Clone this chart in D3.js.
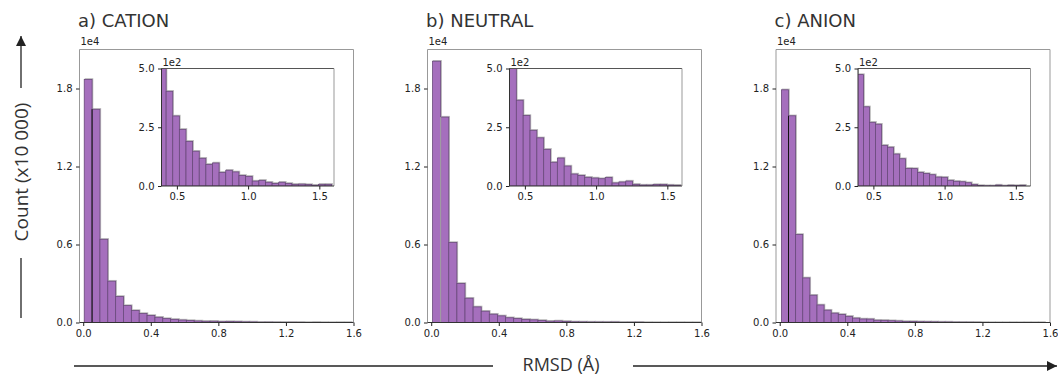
<!DOCTYPE html>
<html><head><meta charset="utf-8">
<script src="https://cdn.jsdelivr.net/npm/d3@7"></script>
<style>body{margin:0;background:#fff}svg{display:block}</style>
</head><body><svg id="c" width="1058" height="376"></svg>
<script>
// ---- data ----
const panelTitles = ["a) CATION", "b) NEUTRAL", "c) ANION"];
const binStart = [0.006, 0.008, 0.010];
const binWidth = [0.0465, 0.048, 0.0421];
const cationCounts = [18700,16400,6400,3180,2000,1300,920,690,540,403,298,241,190,148,118,92,98,58,67,60,45,41,21,24,16,11,16,11,7,8,6,3,7,7];
const neutralCounts = [20100,15800,6150,3000,1870,1200,870,640,510,365,300,237,205,156,101,119,85,51,45,37,34,31,36,13,17,21,7,4,4,6,6,4,3];
const anionCounts = [17900,15900,6770,3430,2100,1350,950,720,620,474,337,271,263,173,165,136,116,75,74,58,53,48,38,37,24,20,18,14,6,2,1,1,4,1,3,2,3];
const mainXTicks = [0, 0.4, 0.8, 1.2, 1.6];
const mainXTickLabels = ["0.0", "0.4", "0.8", "1.2", "1.6"];
const mainYTicks = [0, 6000, 12000, 18000];
const mainYTickLabels = ["0.0", "0.6", "1.2", "1.8"];
const insetXTicks = [0.5, 1.0, 1.5];
const insetXTickLabels = ["0.5", "1.0", "1.5"];
const insetYTicks = [0, 250, 500];
const insetYTickLabels = ["0.0", "2.5", "5.0"];
const mainOffsetLabel = "1e4";
const insetOffsetLabel = "1e2";
const yLabel = "Count (x10 000)";
const xLabel = "RMSD (Å)";
const seriesCounts = [cationCounts, neutralCounts, anionCounts];
const dividerColor = ["#111", "#aaa", "#111"];

// ---- layout ----
const svg = d3.select("#c");
svg.append("rect").attr("width",1058).attr("height",376).attr("fill","#fff");
const panelLeft = [79.5, 427.5, 776];
const mainW = 274, mainTop = 49.5, mainBottom = 322.5;
const insetDx = 82, insetW = 172.5, insetTop = 68.5, insetBottom = 186;
const FILL = "#a56fbd", EDGE = "#6a4a7c", SHADOW = "#bcbcbc";
const tickFont = "DejaVu Sans";

function bars(g, counts, k, x, y, clipId) {
  const data = counts.map((c,i)=>({x0: binStart[k]+i*binWidth[k], x1: binStart[k]+(i+1)*binWidth[k], c}));
  const gg = g.append("g");
  if (clipId) gg.attr("clip-path", `url(#${clipId})`);
  gg.selectAll("rect.sh").data(data).join("rect").attr("class","sh")
    .attr("x", d=>x(d.x0)+0.8).attr("y", d=>y(d.c)-0.8)
    .attr("width", d=>x(d.x1)-x(d.x0)).attr("height", d=>Math.max(0,y(0)-y(d.c)))
    .attr("fill", SHADOW).attr("stroke", SHADOW).attr("stroke-width", 0.8);
  gg.selectAll("rect.b").data(data).join("rect").attr("class","b")
    .attr("x", d=>x(d.x0)).attr("y", d=>y(d.c))
    .attr("width", d=>x(d.x1)-x(d.x0)).attr("height", d=>Math.max(0,y(0)-y(d.c)))
    .attr("fill", FILL).attr("stroke", EDGE).attr("stroke-width", 0.8);
  return data;
}

function styleAxis(sel) {
  sel.select(".domain").remove();
  sel.selectAll(".tick line").attr("stroke","#222");
  sel.selectAll(".tick text").attr("font-family", tickFont).attr("font-size", 10).attr("fill","#222");
}

const defs = svg.append("defs");

panelTitles.forEach((title, k) => {
  const L = panelLeft[k];
  const x = d3.scaleLinear().domain([-0.022, 1.6]).range([L, L+mainW]);
  const y = d3.scaleLinear().domain([0, 21000]).range([mainBottom, mainTop]);
  const g = svg.append("g");
  const counts = seriesCounts[k];
  const data = bars(g, counts, k, x, y, null);
  g.append("line").attr("x1", x(data[1].x0)).attr("x2", x(data[1].x0))
    .attr("y1", y(0)).attr("y2", y(data[1].c)).attr("stroke", dividerColor[k]).attr("stroke-width", 1);
  g.append("line").attr("x1",L).attr("x2",L+mainW).attr("y1",mainTop).attr("y2",mainTop).attr("stroke","#999");
  g.append("line").attr("x1",L+mainW).attr("x2",L+mainW).attr("y1",mainTop).attr("y2",mainBottom).attr("stroke","#999");
  g.append("line").attr("x1",L).attr("x2",L).attr("y1",mainTop).attr("y2",mainBottom).attr("stroke","#999");
  g.append("line").attr("x1",L).attr("x2",L+mainW).attr("y1",mainBottom).attr("y2",mainBottom).attr("stroke","#333");
  const ax = g.append("g").attr("transform",`translate(0,${mainBottom})`)
    .call(d3.axisBottom(x).tickValues(mainXTicks).tickFormat((d,i)=>mainXTickLabels[i]).tickSize(3.5).tickPadding(3.5));
  styleAxis(ax);
  const ay = g.append("g").attr("transform",`translate(${L},0)`)
    .call(d3.axisLeft(y).tickValues(mainYTicks).tickFormat((d,i)=>mainYTickLabels[i]).tickSize(3.5).tickPadding(3.5));
  styleAxis(ay);
  g.append("text").attr("x", L+1).attr("y", mainTop-5).attr("font-family", tickFont).attr("font-size",10).attr("fill","#222").text(mainOffsetLabel);
  g.append("text").attr("x", L-1.5).attr("y", 26.5).attr("font-family", tickFont).attr("font-size",18).attr("fill","#333").text(title);

  const IL = L + insetDx;
  const xi = d3.scaleLinear().domain([0.392, 1.603]).range([IL, IL+insetW]);
  const yi = d3.scaleLinear().domain([0, 500]).range([insetBottom, insetTop]);
  const cid = "clip"+k;
  defs.append("clipPath").attr("id",cid).append("rect").attr("x",IL).attr("y",insetTop).attr("width",insetW).attr("height",insetBottom-insetTop);
  const gi = svg.append("g");
  gi.append("rect").attr("x",IL).attr("y",insetTop).attr("width",insetW).attr("height",insetBottom-insetTop).attr("fill","#fff");
  bars(gi, counts, k, xi, yi, cid);
  gi.append("line").attr("x1",IL).attr("x2",IL+insetW).attr("y1",insetTop).attr("y2",insetTop).attr("stroke","#555");
  gi.append("line").attr("x1",IL+insetW).attr("x2",IL+insetW).attr("y1",insetTop).attr("y2",insetBottom).attr("stroke","#999");
  gi.append("line").attr("x1",IL).attr("x2",IL).attr("y1",insetTop).attr("y2",insetBottom).attr("stroke","#333");
  gi.append("line").attr("x1",IL).attr("x2",IL+insetW).attr("y1",insetBottom).attr("y2",insetBottom).attr("stroke","#333");
  const axi = gi.append("g").attr("transform",`translate(0,${insetBottom})`)
    .call(d3.axisBottom(xi).tickValues(insetXTicks).tickFormat((d,i)=>insetXTickLabels[i]).tickSize(3.5).tickPadding(3.5));
  styleAxis(axi);
  const ayi = gi.append("g").attr("transform",`translate(${IL},0)`)
    .call(d3.axisLeft(yi).tickValues(insetYTicks).tickFormat((d,i)=>insetYTickLabels[i]).tickSize(3.5).tickPadding(3.5));
  styleAxis(ayi);
  gi.append("text").attr("x", IL+1).attr("y", insetTop-3).attr("font-family", tickFont).attr("font-size",10).attr("fill","#222").text(insetOffsetLabel);
});

const arrowColor = "#222";
defs.append("marker").attr("id","ah").attr("viewBox","0 0 10 10").attr("refX",10).attr("refY",5)
  .attr("markerWidth",10).attr("markerHeight",10).attr("markerUnits","userSpaceOnUse").attr("orient","auto")
  .append("path").attr("d","M0,0 L10,5 L0,10 Z").attr("fill",arrowColor);

const xy = 366;
svg.append("line").attr("x1",74).attr("x2",493).attr("y1",xy).attr("y2",xy).attr("stroke",arrowColor).attr("stroke-width",1.3);
svg.append("line").attr("x1",633).attr("x2",1057).attr("y1",xy).attr("y2",xy).attr("stroke",arrowColor).attr("stroke-width",1.3).attr("marker-end","url(#ah)");
svg.append("text").attr("x",561).attr("y",371).attr("text-anchor","middle")
  .attr("font-family","Open Sans").attr("font-size",18).attr("fill","#333").text(xLabel);

const yx = 21;
svg.append("line").attr("x1",yx).attr("x2",yx).attr("y1",318).attr("y2",258).attr("stroke",arrowColor).attr("stroke-width",1.3);
svg.append("line").attr("x1",yx).attr("x2",yx).attr("y1",88).attr("y2",36).attr("stroke",arrowColor).attr("stroke-width",1.3).attr("marker-end","url(#ah)");
svg.append("text").attr("transform",`translate(${yx},172) rotate(-90)`).attr("dy","0.35em").attr("text-anchor","middle")
  .attr("font-family","Open Sans").attr("font-size",19).attr("fill","#333").text(yLabel);
</script></body></html>
